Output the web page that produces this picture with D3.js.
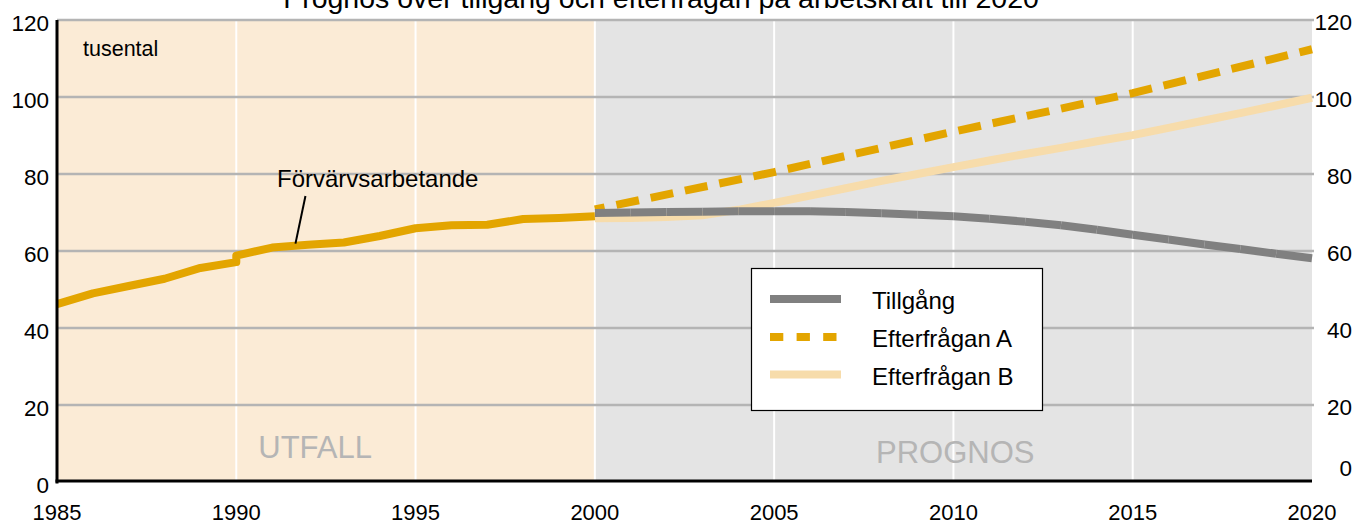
<!DOCTYPE html>
<html>
<head>
<meta charset="utf-8">
<script src="https://cdn.jsdelivr.net/npm/d3@7"></script>
<style>
  html, body { margin: 0; padding: 0; background: #ffffff; }
  svg { display: block; font-family: "Liberation Sans", Arial, sans-serif; }
</style>
</head>
<body>
<svg id="chart" width="1355" height="525"></svg>
<script>
// ---------- data ----------
const titleText = "Prognos över tillgång och efterfrågan på arbetskraft till 2020";
const unitText = "tusental";
const xTicks = [1985, 1990, 1995, 2000, 2005, 2010, 2015, 2020];
const yTicks = [0, 20, 40, 60, 80, 100, 120];
const periods = [
  { label: "UTFALL", from: 1985, to: 2000, labelYear: 1992.2 },
  { label: "PROGNOS", from: 2000, to: 2020, labelYear: 2010.05 }
];

// actual employed (series break at 1990)
const actualYears  = [1985, 1986, 1987, 1988, 1989, 1990, 1990, 1991, 1992, 1993, 1994, 1995, 1996, 1997, 1998, 1999, 2000];
const actualValues = [46.2, 49.0, 50.9, 52.8, 55.6, 57.1, 58.8, 60.9, 61.6, 62.2, 63.9, 65.9, 66.7, 66.8, 68.3, 68.6, 69.0];
const actualLabel = "Förvärvsarbetande";
const annotYear = 1991.65, annotValue = 61.4;

const prognosYears = [2000, 2001, 2002, 2003, 2004, 2005, 2006, 2007, 2008, 2009, 2010,
                      2011, 2012, 2013, 2014, 2015, 2016, 2017, 2018, 2019, 2020];
const tillgang     = [69.9, 70.0, 70.1, 70.2, 70.3, 70.3, 70.3, 70.1, 69.8, 69.4, 69.0,
                      68.4, 67.6, 66.7, 65.5, 64.2, 63.0, 61.7, 60.5, 59.3, 58.1];
const efterfraganB = [68.5, 68.6, 68.8, 69.3, 70.7, 72.5, 74.4, 76.3, 78.2, 80.0, 81.8,
                      83.5, 85.2, 86.8, 88.5, 90.1, 92.0, 93.9, 95.8, 97.8, 99.8];
const efterfraganAYears  = [2000, 2005, 2010, 2015, 2020];
const efterfraganAValues = [70.8, 80.5, 91.0, 101.0, 112.4];

const legendLabels = ["Tillgång", "Efterfrågan A", "Efterfrågan B"];

// ---------- styles ----------
const C = {
  cream: "#fbebd6", grey: "#e4e4e4", grid: "#b4b4b4",
  orange: "#e3a500", lightOrange: "#f7dcab", dark: "#808080", periodText: "#b5b5b5"
};

// ---------- layout ----------
const svg = d3.select("#chart");
const L = 57, R = 1312, T = 20, B = 482;
const x = d3.scaleLinear().domain([1985, 2020]).range([L, R]);
const y = d3.scaleLinear().domain([0, 120]).range([B, T]);

// backgrounds
svg.selectAll("rect.period").data(periods).enter().append("rect")
  .attr("x", d => x(d.from)).attr("y", y(120))
  .attr("width", d => x(d.to) - x(d.from)).attr("height", y(0) - y(120))
  .attr("fill", (d, i) => i === 0 ? C.cream : C.grey);

// vertical white grid
svg.selectAll("line.vgrid").data(xTicks.filter(t => t > 1985 && t < 2020)).enter().append("line")
  .attr("x1", d => x(d)).attr("x2", d => x(d)).attr("y1", y(120)).attr("y2", y(0))
  .attr("stroke", "#ffffff").attr("stroke-width", 2);

// horizontal grid
svg.selectAll("line.hgrid").data(yTicks.filter(t => t > 0)).enter().append("line")
  .attr("x1", L).attr("x2", R + 2).attr("y1", d => y(d)).attr("y2", d => y(d))
  .attr("stroke", C.grid).attr("stroke-width", 2.5);

// period labels
svg.selectAll("text.period").data(periods).enter().append("text")
  .attr("x", d => x(d.labelYear)).attr("y", (d, i) => i === 0 ? 458 : 463)
  .attr("text-anchor", "middle").attr("font-size", 31).attr("fill", C.periodText)
  .text(d => d.label);

// unit
svg.append("text").attr("x", 83).attr("y", 56).attr("font-size", 21.5).attr("fill", "#000")
  .text(unitText);

// title
svg.append("text").attr("x", 661).attr("y", 8).attr("text-anchor", "middle")
  .attr("font-size", 28.5).attr("fill", "#000").text(titleText);

// ---------- series ----------
const line = d3.line().x(d => x(d[0])).y(d => y(d[1]));

// Efterfrågan B
svg.append("path").datum(d3.zip(prognosYears, efterfraganB))
  .attr("d", line).attr("fill", "none").attr("stroke", C.lightOrange)
  .attr("stroke-width", 8).attr("stroke-linejoin", "round");

// Efterfrågan A (dashed)
svg.append("path").datum(d3.zip(efterfraganAYears, efterfraganAValues))
  .attr("d", line).attr("fill", "none").attr("stroke", C.orange)
  .attr("stroke-width", 8).attr("stroke-dasharray", "23 12").attr("stroke-dashoffset", 13);

// Tillgång (drawn as yearly segments)
const tg = d3.zip(prognosYears, tillgang);
svg.selectAll("path.tg").data(d3.pairs(tg)).enter().append("path")
  .attr("d", d => line(d)).attr("fill", "none").attr("stroke", C.dark)
  .attr("stroke-width", 8);

// actual
svg.append("path").datum(d3.zip(actualYears, actualValues))
  .attr("d", line).attr("fill", "none").attr("stroke", C.orange)
  .attr("stroke-width", 8).attr("stroke-linejoin", "round");

// annotation
svg.append("line")
  .attr("x1", x(annotYear)).attr("y1", y(annotValue) - 2)
  .attr("x2", x(annotYear) + 10).attr("y2", 196)
  .attr("stroke", "#000").attr("stroke-width", 2);
svg.append("text").attr("x", 277).attr("y", 187).attr("font-size", 24).attr("fill", "#000")
  .text(actualLabel);

// ---------- axes ----------
svg.append("line").attr("x1", L).attr("x2", L).attr("y1", y(120)).attr("y2", y(0) + 1.5)
  .attr("stroke", "#000").attr("stroke-width", 3);
svg.append("line").attr("x1", L - 1.5).attr("x2", R).attr("y1", y(0) - 1).attr("y2", y(0) - 1)
  .attr("stroke", "#000").attr("stroke-width", 3);

// left labels
svg.selectAll("text.yl").data(yTicks).enter().append("text")
  .attr("x", 49).attr("y", d => y(d) + 11).attr("text-anchor", "end")
  .attr("font-size", 22.5).attr("fill", "#000").text(d => d);

// right labels
svg.selectAll("text.yr").data(yTicks).enter().append("text")
  .attr("x", 1352).attr("y", d => d === 0 ? y(d) - 6 : y(d) + 10).attr("text-anchor", "end")
  .attr("font-size", 22.5).attr("fill", "#000").text(d => d);

// bottom labels
svg.selectAll("text.xl").data(xTicks).enter().append("text")
  .attr("x", d => x(d)).attr("y", 520).attr("text-anchor", "middle")
  .attr("font-size", 22).attr("fill", "#000").text(d => d);

// ---------- legend ----------
const lg = svg.append("g");
lg.append("rect").attr("x", 751.5).attr("y", 268.5).attr("width", 291).attr("height", 142)
  .attr("fill", "#fff").attr("stroke", "#000").attr("stroke-width", 1.2);
const legendStyles = [
  { stroke: C.dark, dash: null, cy: 299 },
  { stroke: C.orange, dash: "13.3 13.3", cy: 337 },
  { stroke: C.lightOrange, dash: null, cy: 374.5 }
];
legendLabels.forEach((lab, i) => {
  const s = legendStyles[i];
  const ln = lg.append("line").attr("x1", 770).attr("x2", 841).attr("y1", s.cy).attr("y2", s.cy)
    .attr("stroke", s.stroke).attr("stroke-width", 8);
  if (s.dash) ln.attr("stroke-dasharray", s.dash);
  lg.append("text").attr("x", 872).attr("y", s.cy + 10).attr("font-size", 24).attr("fill", "#000")
    .text(lab);
});
</script>
</body>
</html>
